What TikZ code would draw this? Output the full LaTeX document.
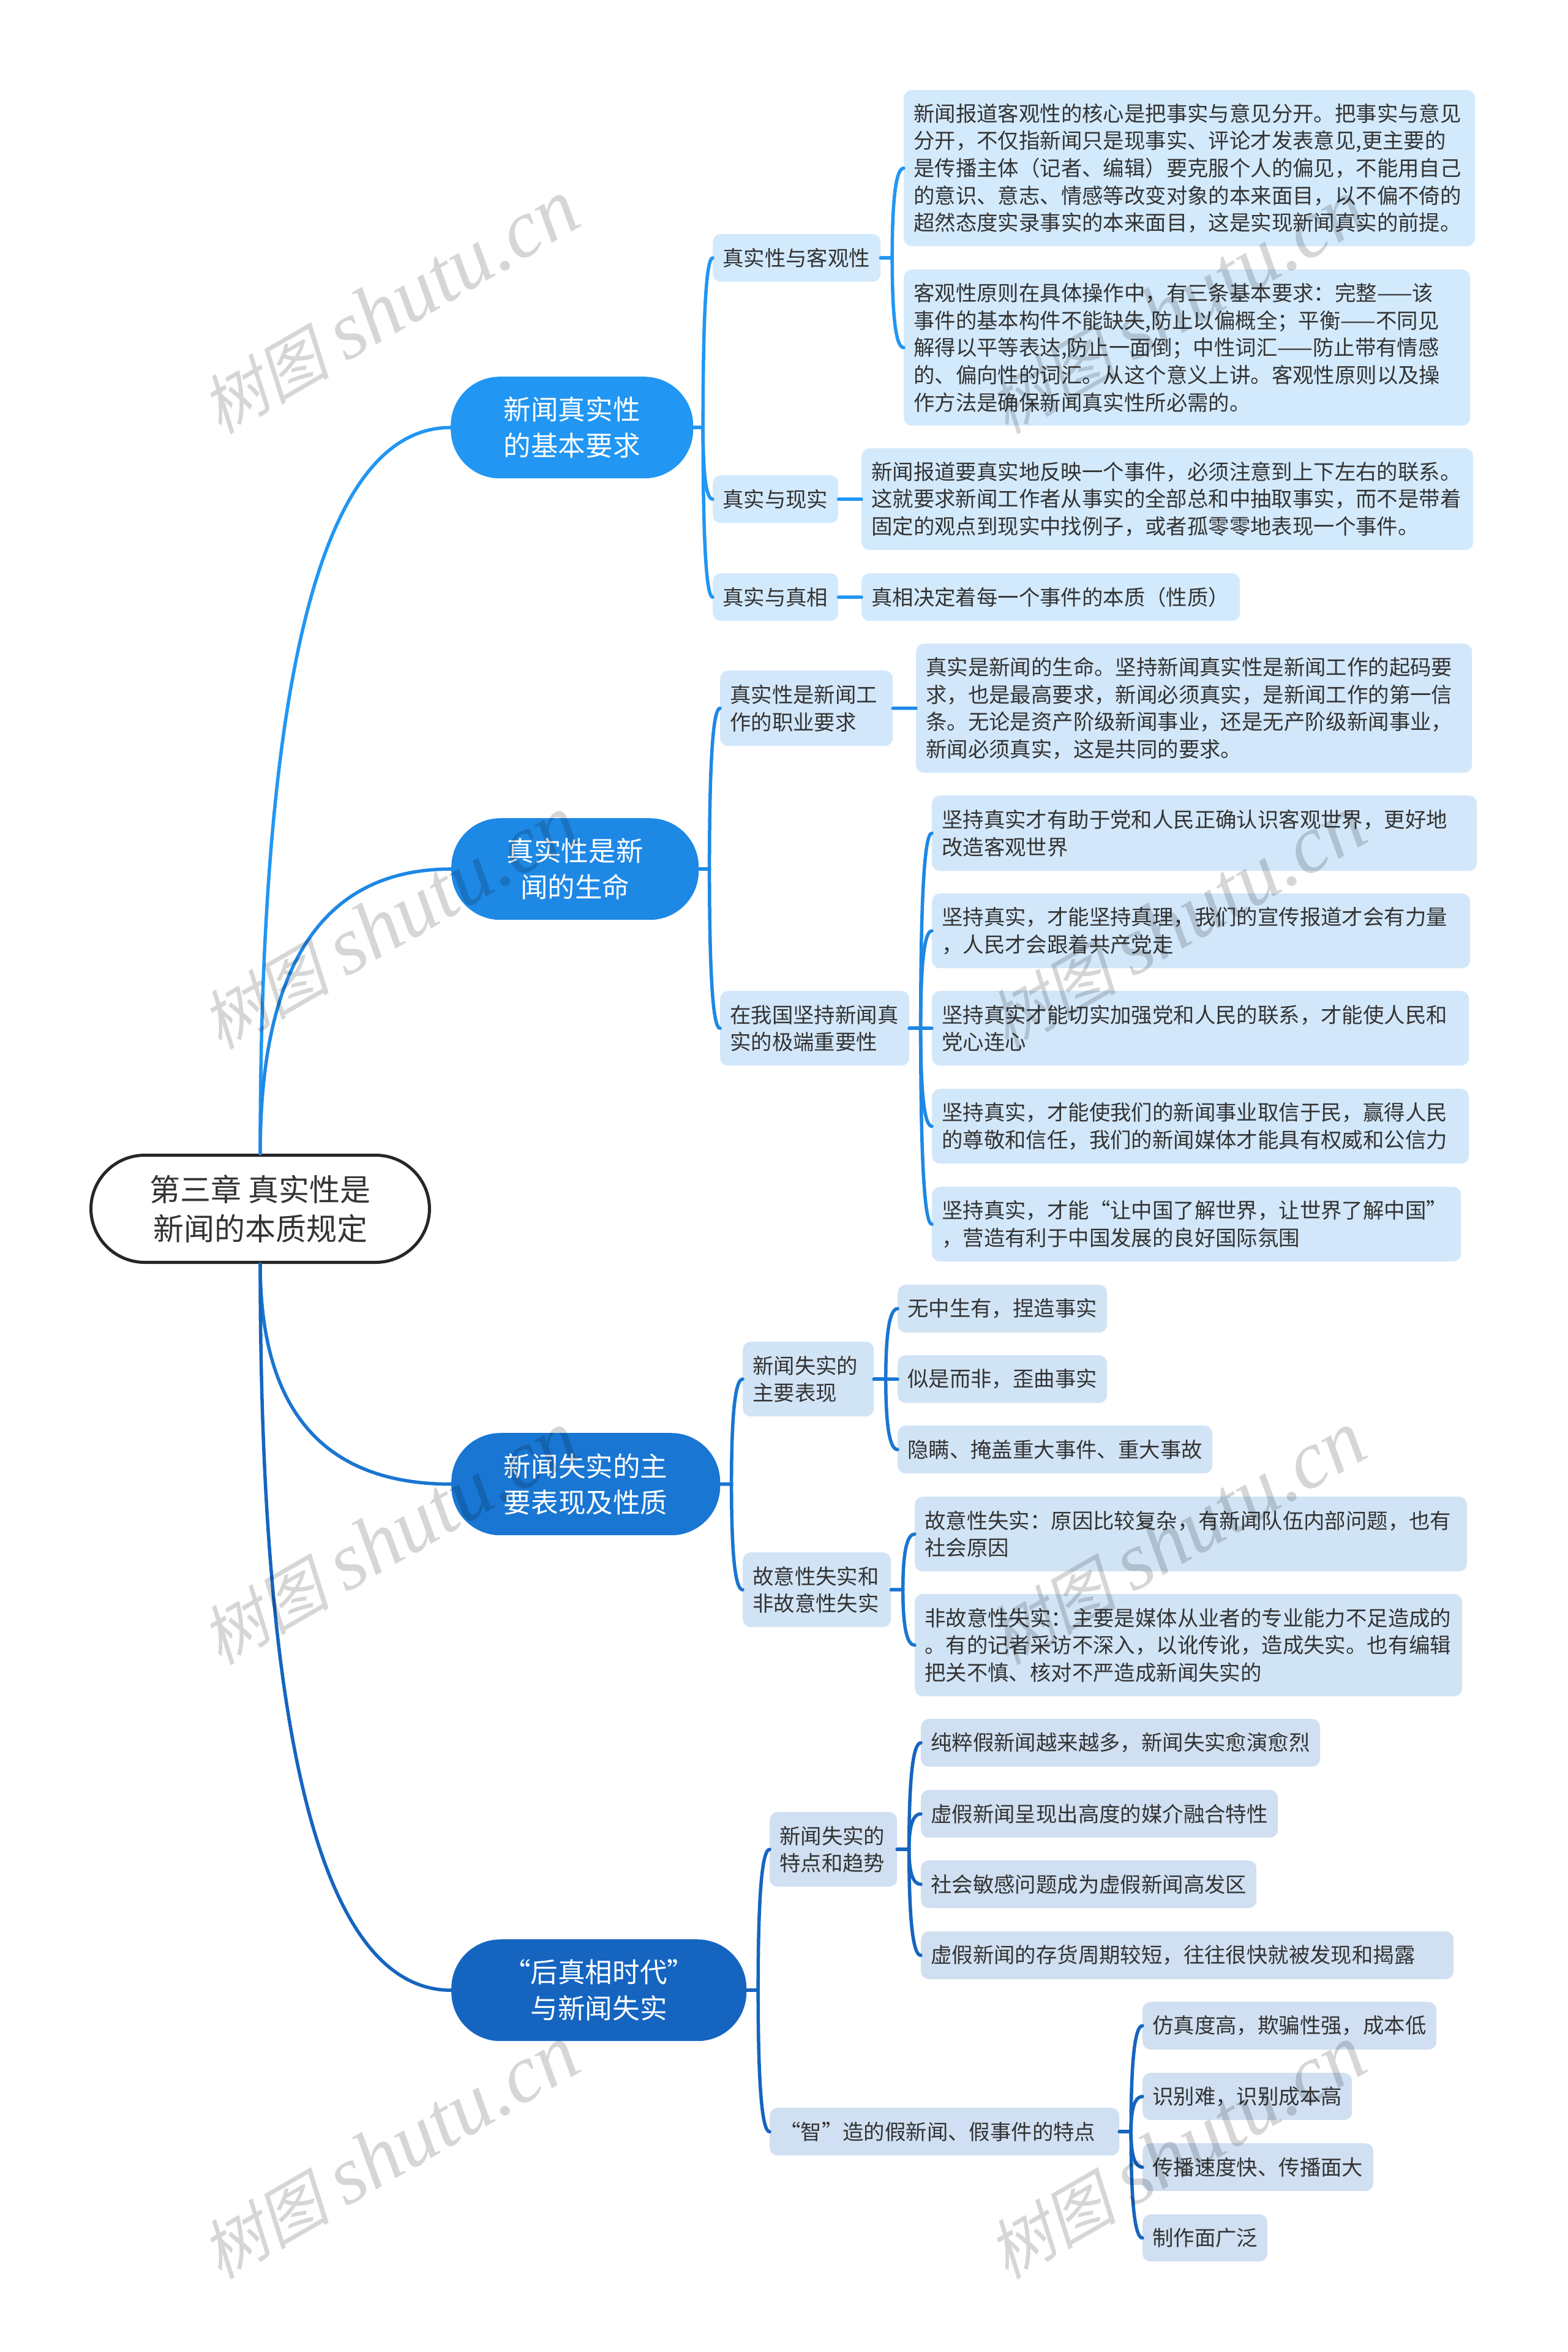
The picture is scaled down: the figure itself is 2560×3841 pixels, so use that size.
\documentclass[tikz,border=0pt]{standalone}
\usepackage{fontspec}
\setmainfont{Noto Sans CJK SC}
\newfontfamily\wmcjk[FakeSlant=0.22]{Noto Sans CJK SC}
\newfontfamily\wmlat{Liberation Serif}[ItalicFont=* Italic]
\usetikzlibrary{calc}
\definecolor{ca}{HTML}{2196F3}
\definecolor{cb}{HTML}{1E88E5}
\definecolor{cc}{HTML}{1976D2}
\definecolor{cd}{HTML}{1565C0}
\definecolor{ink}{HTML}{333333}
\tikzset{
  conn/.style={line width=5.5pt,line cap=round},
  rootbox/.style={draw=black!85,line width=5pt,fill=white,text=ink,rounded corners=88pt,align=center,font=\fontsize{50}{64}\selectfont},
  branchbox/.style={fill=#1,text=white,rounded corners=80pt,align=center,font=\fontsize{44.6}{59}\selectfont},
  leafbox/.style={fill=#1!20!white,text=ink,rounded corners=13pt,align=left,font=\fontsize{34.4}{44.6}\selectfont},
  wmark/.style={rotate=30,text=black,opacity=0.16,inner sep=0pt}
}
% boxes given by their corners
\newcommand{\cornerbox}[7]{%
  \pgfmathsetmacro\bw{#5-#3-32}\pgfmathsetmacro\bh{#6-#4}%
  \node[#1,anchor=north west,inner xsep=16pt,inner ysep=0pt,text width=\bw pt,minimum height=\bh pt] (#2) at (#3,#4) {#7};}
\newcommand{\centerbox}[7]{%
  \pgfmathsetmacro\bw{#5-#3}\pgfmathsetmacro\bh{#6-#4}%
  \node[#1,anchor=north west,inner sep=0pt,minimum width=\bw pt,minimum height=\bh pt] (#2) at (#3,#4) {#7};}
% main curves
\newcommand{\mainup}[2]{\draw[conn,#2!100] (root.north) .. controls ($(root.north)!.667!(root.north|-#1.west)$) and ($(#1.west)!.667!(root.north|-#1.west)$) .. (#1.west);}
\newcommand{\maindown}[2]{\draw[conn,#2!100] (root.south) .. controls ($(root.south)!.667!(root.south|-#1.west)$) and ($(#1.west)!.667!(root.south|-#1.west)$) .. (#1.west);}
% parent to child
\newcommand{\sub}[3]{%
  \coordinate (m) at ($(#1.east)!.5!(#1.east-|#2.west)$);
  \draw[conn,#3] (#1.east) -- (m) .. controls ($(m)!.667!(m|-#2.west)$) and ($(#2.west)!.667!(m|-#2.west)$) .. (#2.west);}
\newcommand{\wm}[1]{\node[wmark] at (#1) {\fontsize{106}{120}\selectfont\wmcjk 树图\hspace{26pt}\fontsize{134}{120}\selectfont\wmlat\itshape shutu.cn};}
\begin{document}
\begin{tikzpicture}[x=1pt,y=-1pt]
\useasboundingbox (0,0) rectangle (2560,3841);
\fill[white] (0,0) rectangle (2560,3841);
% ---- nodes
\centerbox{rootbox}{root}{146}{1884}{699}{2059}{第三章 真实性是\\新闻的本质规定}
\centerbox{branchbox=ca}{b1}{736}{615}{1132}{781}{新闻真实性\\的基本要求}
\centerbox{branchbox=cb}{b2}{737}{1336}{1141}{1502}{真实性是新\\闻的生命}
\centerbox{branchbox=cc}{b3}{737}{2340}{1176}{2507}{新闻失实的主\\要表现及性质}
\centerbox{branchbox=cd}{b4}{737}{3167}{1219}{3333}{“后真相时代”\\与新闻失实}

\cornerbox{leafbox=ca}{a1}{1164}{382}{1438}{460}{真实性与客观性}
\cornerbox{leafbox=ca}{a2}{1164}{776}{1369}{854}{真实与现实}
\cornerbox{leafbox=ca}{a3}{1164}{936}{1369}{1014}{真实与真相}
\cornerbox{leafbox=ca}{a1x}{1476}{147}{2409}{402}{新闻报道客观性的核心是把事实与意见分开。把事实与意见\\分开，不仅指新闻只是现事实、评论才发表意见,更主要的\\是传播主体（记者、编辑）要克服个人的偏见，不能用自己\\的意识、意志、情感等改变对象的本来面目，以不偏不倚的\\超然态度实录事实的本来面目，这是实现新闻真实的前提。}
\cornerbox{leafbox=ca}{a1y}{1476}{440}{2401}{695}{客观性原则在具体操作中，有三条基本要求：完整——该\\事件的基本构件不能缺失,防止以偏概全；平衡——不同见\\解得以平等表达,防止一面倒；中性词汇——防止带有情感\\的、偏向性的词汇。从这个意义上讲。客观性原则以及操\\作方法是确保新闻真实性所必需的。}
\cornerbox{leafbox=ca}{a2x}{1407}{732}{2406}{898}{新闻报道要真实地反映一个事件，必须注意到上下左右的联系。\\这就要求新闻工作者从事实的全部总和中抽取事实，而不是带着\\固定的观点到现实中找例子，或者孤零零地表现一个事件。}
\cornerbox{leafbox=ca}{a3x}{1407}{936}{2025}{1014}{真相决定着每一个事件的本质（性质）}

\cornerbox{leafbox=cb}{c1}{1176}{1095}{1458}{1218}{真实性是新闻工\\作的职业要求}
\cornerbox{leafbox=cb}{c2}{1176}{1618}{1485}{1740}{在我国坚持新闻真\\实的极端重要性}
\cornerbox{leafbox=cb}{c1x}{1496}{1051}{2404}{1262}{真实是新闻的生命。坚持新闻真实性是新闻工作的起码要\\求，也是最高要求，新闻必须真实，是新闻工作的第一信\\条。无论是资产阶级新闻事业，还是无产阶级新闻事业，\\新闻必须真实，这是共同的要求。}
\cornerbox{leafbox=cb}{d1}{1522}{1299}{2412}{1422}{坚持真实才有助于党和人民正确认识客观世界，更好地\\改造客观世界}
\cornerbox{leafbox=cb}{d2}{1522}{1459}{2401}{1581}{坚持真实，才能坚持真理，我们的宣传报道才会有力量\\，人民才会跟着共产党走}
\cornerbox{leafbox=cb}{d3}{1522}{1618}{2399}{1740}{坚持真实才能切实加强党和人民的联系，才能使人民和\\党心连心}
\cornerbox{leafbox=cb}{d4}{1522}{1778}{2399}{1900}{坚持真实，才能使我们的新闻事业取信于民，赢得人民\\的尊敬和信任，我们的新闻媒体才能具有权威和公信力}
\cornerbox{leafbox=cb}{d5}{1522}{1938}{2386}{2060}{坚持真实，才能“让中国了解世界，让世界了解中国”\\，营造有利于中国发展的良好国际氛围}

\cornerbox{leafbox=cc}{e1}{1213}{2191}{1427}{2313}{新闻失实的\\主要表现}
\cornerbox{leafbox=cc}{e2}{1213}{2535}{1455}{2657}{故意性失实和\\非故意性失实}
\cornerbox{leafbox=cc}{f1}{1466}{2098}{1808}{2176}{无中生有，捏造事实}
\cornerbox{leafbox=cc}{f2}{1466}{2213}{1808}{2291}{似是而非，歪曲事实}
\cornerbox{leafbox=cc}{f3}{1466}{2328}{1980}{2406}{隐瞒、掩盖重大事件、重大事故}
\cornerbox{leafbox=cc}{g1}{1494}{2444}{2396}{2566}{故意性失实：原因比较复杂，有新闻队伍内部问题，也有\\社会原因}
\cornerbox{leafbox=cc}{g2}{1494}{2603}{2388}{2770}{非故意性失实：主要是媒体从业者的专业能力不足造成的\\。有的记者采访不深入，以讹传讹，造成失实。也有编辑\\把关不慎、核对不严造成新闻失实的}

\cornerbox{leafbox=cd}{h1}{1257}{2959}{1465}{3081}{新闻失实的\\特点和趋势}
\cornerbox{leafbox=cd}{h2}{1257}{3442}{1828}{3520}{“智”造的假新闻、假事件的特点}
\cornerbox{leafbox=cd}{i1}{1504}{2807}{2156}{2885}{纯粹假新闻越来越多，新闻失实愈演愈烈}
\cornerbox{leafbox=cd}{i2}{1504}{2923}{2087}{3001}{虚假新闻呈现出高度的媒介融合特性}
\cornerbox{leafbox=cd}{i3}{1504}{3038}{2052}{3116}{社会敏感问题成为虚假新闻高发区}
\cornerbox{leafbox=cd}{i4}{1504}{3154}{2374}{3232}{虚假新闻的存货周期较短，往往很快就被发现和揭露}
\cornerbox{leafbox=cd}{j1}{1866}{3269}{2346}{3347}{仿真度高，欺骗性强，成本低}
\cornerbox{leafbox=cd}{j2}{1866}{3385}{2208}{3462}{识别难，识别成本高}
\cornerbox{leafbox=cd}{j3}{1866}{3500}{2243}{3578}{传播速度快、传播面大}
\cornerbox{leafbox=cd}{j4}{1866}{3616}{2070}{3693}{制作面广泛}
% ---- connectors
\mainup{b1}{ca}
\mainup{b2}{cb}
\maindown{b3}{cc}
\maindown{b4}{cd}
\foreach \k in {a1,a2,a3}{\sub{b1}{\k}{ca}}
\sub{a1}{a1x}{ca}\sub{a1}{a1y}{ca}\sub{a2}{a2x}{ca}\sub{a3}{a3x}{ca}
\foreach \k in {c1,c2}{\sub{b2}{\k}{cb}}
\sub{c1}{c1x}{cb}
\foreach \k in {d1,d2,d3,d4,d5}{\sub{c2}{\k}{cb}}
\foreach \k in {e1,e2}{\sub{b3}{\k}{cc}}
\foreach \k in {f1,f2,f3}{\sub{e1}{\k}{cc}}
\foreach \k in {g1,g2}{\sub{e2}{\k}{cc}}
\foreach \k in {h1,h2}{\sub{b4}{\k}{cd}}
\foreach \k in {i1,i2,i3,i4}{\sub{h1}{\k}{cd}}
\foreach \k in {j1,j2,j3,j4}{\sub{h2}{\k}{cd}}
% ---- watermarks
\wm{636,502}\wm{1921,502}
\wm{636,1507}\wm{1921,1507}
\wm{636,2512}\wm{1921,2512}
\wm{636,3515}\wm{1921,3515}
\end{tikzpicture}
\end{document}
